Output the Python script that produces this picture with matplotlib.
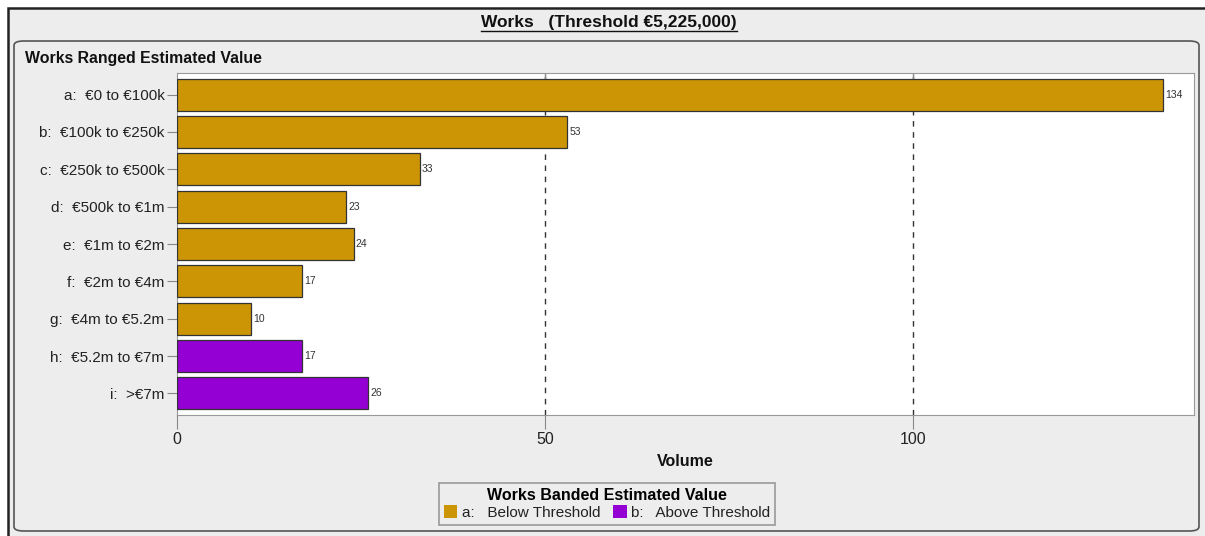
import matplotlib.pyplot as plt
from matplotlib.patches import FancyBboxPatch, Rectangle, Patch
from matplotlib.lines import Line2D

plt.rcParams['font.family'] = ['Liberation Sans', 'DejaVu Sans']

categories = ['a:  €0 to €100k', 'b:  €100k to €250k', 'c:  €250k to €500k',
              'd:  €500k to €1m', 'e:  €1m to €2m', 'f:  €2m to €4m',
              'g:  €4m to €5.2m', 'h:  €5.2m to €7m', 'i:  >€7m']
volumes = [134, 53, 33, 23, 24, 17, 10, 17, 26]
bands = ['a', 'a', 'a', 'a', 'a', 'a', 'a', 'b', 'b']
band_labels = {'a': 'a:   Below Threshold', 'b': 'b:   Above Threshold'}
band_colors = {'a': '#CC9505', 'b': '#9400D3'}

W, H = 1205, 536
bg = '#EDEDED'
fig = plt.figure(figsize=(W / 100, H / 100), dpi=100, facecolor='white')

def fx(px):
    return px / W

def fy(py):
    return 1 - py / H

# outer frame and inner rounded panel
fig.patches.append(Rectangle((fx(8), fy(540)), fx(1210) - fx(8), fy(8) - fy(540),
                             transform=fig.transFigure, facecolor=bg,
                             edgecolor='#222222', lw=1.8, zorder=-2))
fig.patches.append(FancyBboxPatch((fx(14), fy(531)), fx(1199) - fx(14), fy(41) - fy(531),
                                  boxstyle='round,pad=0,rounding_size=0.008',
                                  transform=fig.transFigure, facecolor=bg,
                                  edgecolor='#555555', lw=1.2, zorder=-1))

title = fig.text(fx(609), fy(22), 'Works   (Threshold €5,225,000)', ha='center', va='center',
                 fontsize=12.5, fontweight='bold', color='#111111')
fig.text(fx(25), fy(59), 'Works Ranged Estimated Value', ha='left', va='center',
         fontsize=11.4, fontweight='bold', color='#111111')

ax = fig.add_axes([fx(177), fy(415), fx(1194) - fx(177), fy(73) - fy(415)])
ax.set_zorder(2)
ax.set_facecolor('white')
y = list(range(len(categories)))
colors = [band_colors[b] for b in bands]
bars = ax.barh(y, volumes, height=0.86, color=colors, edgecolor='#333333', lw=0.9, zorder=3)
for yi, v in zip(y, volumes):
    ax.text(v + 0.3, yi, str(v), va='center', ha='left', fontsize=7.5, color='#333333', zorder=4)

ax.set_xlim(0, 138.2)
ax.set_ylim(8.58, -0.58)
ax.set_yticks(y)
ax.set_yticklabels(categories, fontsize=11, color='#222222')
ax.set_xticks([0, 50, 100])
ax.set_xticklabels(['0', '50', '100'], fontsize=11.5, color='#222222')
ax.tick_params(axis='x', length=10, color='#888888', pad=2, direction='out')
ax.tick_params(axis='y', length=7, color='#888888', pad=2)
for x in [50, 100]:
    ax.axvline(x, color='#333333', ls=(0, (4, 4)), lw=1, zorder=1)
    ax.plot([x, x], [-0.58, -0.35], color='#888888', lw=1, zorder=2)
for s in ax.spines.values():
    s.set_color('#999999')
ax.set_xlabel('Volume', fontsize=11.5, fontweight='bold', color='#111111', labelpad=5)

handles = [Patch(facecolor=band_colors[k], edgecolor='none', label=band_labels[k]) for k in ['a', 'b']]
leg = fig.legend(handles=handles, title='Works Banded Estimated Value', ncol=2,
                 loc='center', bbox_to_anchor=(fx(607), fy(504)), fontsize=11,
                 title_fontproperties={'weight': 'bold', 'size': 11.5},
                 frameon=True, fancybox=False, edgecolor='#999999', facecolor=bg,
                 framealpha=1, handlelength=0.9, handleheight=0.9, handletextpad=0.3,
                 columnspacing=0.8, borderpad=0.3, labelspacing=0.15, borderaxespad=0)
leg.get_frame().set_linewidth(1.2)
for t in leg.get_texts():
    t.set_color('#222222')

# underline the main title
fig.canvas.draw()
bb = title.get_window_extent().transformed(fig.transFigure.inverted())
fig.add_artist(Line2D([bb.x0, bb.x1], [bb.y0 - 0.002, bb.y0 - 0.002],
                      transform=fig.transFigure, color='#111111', lw=1))

fig.savefig('out.png', dpi=100, facecolor='white')
